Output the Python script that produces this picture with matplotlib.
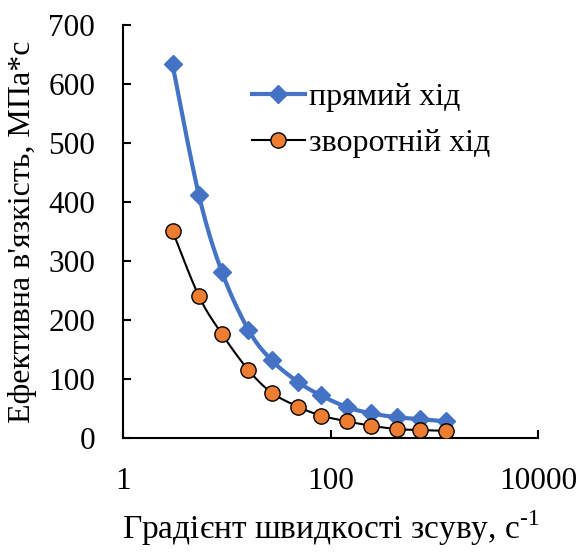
"""viscosity vs shear rate, forward and reverse run
"""
import numpy as np
import matplotlib
matplotlib.use('Agg')
import matplotlib.pyplot as plt

plt.rcParams['font.family'] = ['Liberation Serif', 'DejaVu Serif']
plt.rcParams['mathtext.fontset'] = 'custom'
plt.rcParams['mathtext.rm'] = 'Liberation Serif'

# швидкість зсуву, с-1
shear_rate = [3, 5.4, 9, 16.2, 27, 48.6, 81, 145.8, 243, 437.4, 729, 1312]
# прямий хід
visc_up = [633, 411, 281, 183, 132, 95, 72, 52, 42, 35, 32, 28]
# зворотній хід
visc_down = [351, 240, 176, 115, 77, 53, 38, 28, 21, 15, 13.5, 12]

x_ticks = [1, 100, 10000]
y_ticks = [0, 100, 200, 300, 400, 500, 600, 700]


def smooth(ax, xs, ys, n=20):
    # catmull-rom in screen space, roughly like excel's smoothed line
    pts = ax.transData.transform(np.column_stack([xs, ys]))
    p = np.vstack([pts[0], pts, pts[-1]])
    out = []
    for i in range(1, len(p) - 2):
        p0, p1, p2, p3 = p[i - 1], p[i], p[i + 1], p[i + 2]
        t = np.linspace(0, 1, n, endpoint=False)[:, None]
        seg = 0.5 * ((2 * p1) + (-p0 + p2) * t
                     + (2 * p0 - 5 * p1 + 4 * p2 - p3) * t ** 2
                     + (-p0 + 3 * p1 - 3 * p2 + p3) * t ** 3)
        out.append(seg)
    out.append(p[-2][None, :])
    out = np.vstack(out)
    back = ax.transData.inverted().transform(out)
    return back[:, 0], back[:, 1]


fig = plt.figure(figsize=(5.81, 5.53), dpi=100)
ax = fig.add_axes([0.2117, 0.208, 0.7143, 0.747])
ax.set_xscale('log')
ax.set_xlim(1, 10000)
ax.set_ylim(0, 700)

blue = '#4472C4'
orange = '#ED7D31'
fs = 22.5

sx, sy = smooth(ax, shear_rate, visc_up)
ax.plot(sx, sy, color=blue, lw=3, zorder=2)
ax.plot(shear_rate, visc_up, ls='none', marker='D', ms=9.5, color=blue, zorder=3)
sx, sy = smooth(ax, shear_rate, visc_down)
ax.plot(sx, sy, color='black', lw=1.5, zorder=2)
ax.plot(shear_rate, visc_down, ls='none', marker='o', ms=11, mfc=orange,
        mec='black', mew=1, zorder=3)

# legend proxies
ax.plot([], [], color=blue, lw=3, marker='D', ms=9.5, label='прямий хід')
ax.plot([], [], color='black', lw=1.5, marker='o', ms=11, mfc=orange,
        mec='black', mew=1, label='зворотній хід')
ax.legend(loc='upper left', bbox_to_anchor=(0.28, 0.89), frameon=False,
          fontsize=23, handlelength=1.65, handletextpad=0.15, labelspacing=0.5,
          borderaxespad=0)

ax.spines['top'].set_visible(False)
ax.spines['right'].set_visible(False)
for s in ['left', 'bottom']:
    ax.spines[s].set_linewidth(1.5)

ax.set_xticks(x_ticks)
ax.set_xticklabels([str(v) for v in x_ticks])
ax.xaxis.set_minor_locator(matplotlib.ticker.NullLocator())
ax.set_yticks(y_ticks)
ax.tick_params(axis='both', direction='in', length=6, width=1.5, labelsize=fs)
ax.tick_params(axis='x', pad=21)
ax.tick_params(axis='y', pad=20)

ax.set_xlabel(r'Градієнт швидкості зсуву, с$^{\text{-1}}$', fontsize=24, labelpad=9)
ax.set_ylabel("Ефективна в'язкість, МПа*с", fontsize=23, labelpad=8)

fig.savefig('out.png', dpi=100)
